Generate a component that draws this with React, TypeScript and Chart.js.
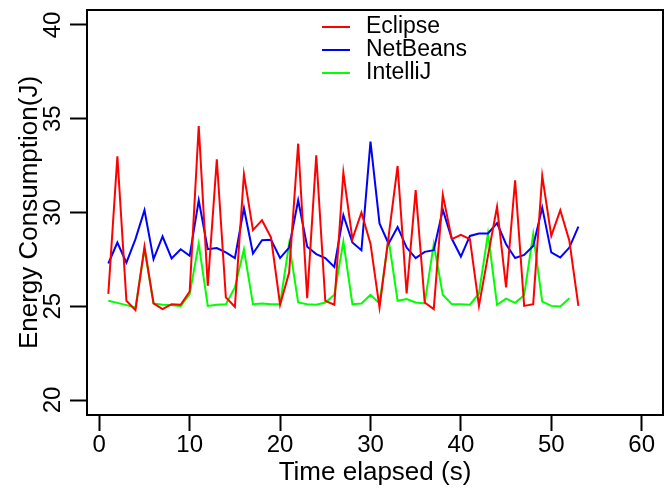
import React, { useEffect, useRef } from "react";
import { Chart, registerables } from "chart.js";

Chart.register(...registerables);

const timeSeconds = [
  1, 2, 3, 4, 5, 6, 7, 8, 9, 10, 11, 12, 13, 14, 15, 16, 17, 18, 19, 20,
  21, 22, 23, 24, 25, 26, 27, 28, 29, 30, 31, 32, 33, 34, 35, 36, 37, 38, 39, 40,
  41, 42, 43, 44, 45, 46, 47, 48, 49, 50, 51, 52, 53,
];

const eclipseJ = [
  25.66, 33.0, 25.29, 24.79, 28.17, 25.15, 24.85, 25.11, 25.08, 25.79,
  34.61, 26.09, 32.84, 25.47, 24.97, 32.04, 29.06, 29.59, 28.66, 25.08,
  26.8, 33.67, 25.43, 33.05, 25.29, 25.08, 32.13, 28.58, 30.0, 28.34,
  24.93, 28.7, 32.48, 25.68, 31.19, 25.2, 24.85, 30.94, 28.58, 28.81,
  28.58, 25.02, 27.7, 30.3, 26.0, 31.72, 25.02, 25.11, 31.95, 28.75,
  30.12, 28.49, 25.02,
];

const netbeansJ = [
  27.28, 28.4, 27.33, 28.58, 30.12, 27.51, 28.72, 27.55, 28.04, 27.69,
  30.65, 28.04, 28.1, 27.87, 27.57, 30.23, 27.81, 28.52, 28.54, 27.57,
  28.13, 30.65, 28.17, 27.78, 27.57, 27.1, 29.86, 28.4, 27.99, 33.78,
  29.42, 28.34, 29.23, 28.13, 27.57, 27.9, 27.99, 30.15, 28.6, 27.65,
  28.75, 28.88, 28.88, 29.43, 28.31, 27.57, 27.74, 28.22, 30.26, 27.87,
  27.6, 28.13, 29.25,
];

const intellijJ = [
  25.29, 25.18, 25.06, 24.93, 28.04, 25.15, 25.08, 25.06, 25.0, 25.65,
  28.34, 25.02, 25.08, 25.11, 26.0, 28.04, 25.11, 25.15, 25.11, 25.11,
  28.34, 25.2, 25.11, 25.08, 25.2, 25.61, 28.45, 25.11, 25.15, 25.61,
  25.15, 28.58, 25.29, 25.38, 25.2, 25.15, 28.31, 25.61, 25.11, 25.11,
  25.08, 25.68, 28.88, 25.08, 25.41, 25.18, 25.59, 28.84, 25.25, 25.02,
  24.99, 25.43,
];

const seriesNames = ["Eclipse", "NetBeans", "IntelliJ"];
const seriesColors = ["#FF0000", "#0000FF", "#00FF00"];
const xTickValues = [0, 10, 20, 30, 40, 50, 60];
const yTickValues = [20, 25, 30, 35, 40];
const xTitle = "Time elapsed (s)";
const yTitle = "Energy Consumption(J)";

const FONT = "'Liberation Sans', Arial, Helvetica, sans-serif";

const boxPlugin = {
  id: "rBox",
  afterDraw(chart: any) {
    const { ctx, chartArea } = chart;
    ctx.save();
    ctx.strokeStyle = "#000";
    ctx.lineWidth = 2;
    ctx.strokeRect(
      Math.round(chartArea.left),
      Math.round(chartArea.top),
      Math.round(chartArea.right - chartArea.left),
      Math.round(chartArea.bottom - chartArea.top)
    );
    ctx.restore();
  },
};

const legendPlugin = {
  id: "rLegend",
  afterDraw(chart: any) {
    const { ctx, chartArea } = chart;
    const cx = (chartArea.left + chartArea.right) / 2;
    const lineStart = cx - 53;
    const lineEnd = cx - 25;
    const textX = cx - 9;
    const firstY = chartArea.top + 17;
    const rowH = 23;
    ctx.save();
    ctx.font = `23px ${FONT}`;
    ctx.textBaseline = "middle";
    ctx.textAlign = "left";
    chart.data.datasets.forEach((ds: any, i: number) => {
      const y = firstY + i * rowH;
      ctx.strokeStyle = ds.borderColor;
      ctx.lineWidth = 2;
      ctx.beginPath();
      ctx.moveTo(lineStart, y);
      ctx.lineTo(lineEnd, y);
      ctx.stroke();
      ctx.fillStyle = "#000";
      ctx.fillText(ds.label, textX, y);
    });
    ctx.restore();
  },
};

function makeSeries(values: number[]) {
  return values.map((v, i) => ({ x: timeSeconds[i], y: v }));
}

export default function App() {
  const canvasRef = useRef<HTMLCanvasElement | null>(null);

  useEffect(() => {
    document.body.style.margin = "0";
    const canvas = canvasRef.current;
    if (!canvas) return;
    const seriesValues = [eclipseJ, netbeansJ, intellijJ];
    const chart = new Chart(canvas, {
      type: "line",
      data: {
        datasets: seriesValues.map((vals, i) => ({
          label: seriesNames[i],
          data: makeSeries(vals),
          borderColor: seriesColors[i],
          backgroundColor: seriesColors[i],
          borderWidth: 2,
          pointRadius: 0,
          tension: 0,
          fill: false,
        })),
      },
      options: {
        responsive: false,
        animation: false,
        events: [],
        layout: { padding: { left: 0, right: 4, top: 10, bottom: 0 } },
        plugins: {
          legend: { display: false },
          tooltip: { enabled: false },
        },
        scales: {
          x: {
            type: "linear",
            min: -1.36,
            max: 62.36,
            afterBuildTicks: (scale: any) => {
              scale.ticks = xTickValues.map((v) => ({ value: v }));
            },
            afterFit: (scale: any) => {
              scale.height = 79;
              scale.paddingLeft = 0;
              scale.paddingRight = 0;
            },
            grid: {
              drawOnChartArea: false,
              drawTicks: true,
              tickLength: 16,
              tickColor: "#000",
              tickWidth: 2,
            },
            border: { display: true, color: "#000", width: 2 },
            ticks: {
              color: "#000",
              padding: 0,
              maxRotation: 0,
              autoSkip: false,
              font: { family: FONT, size: 24 },
            },
            title: {
              display: true,
              text: xTitle,
              color: "#000",
              font: { family: FONT, size: 26 },
              padding: { top: 0, bottom: 6 },
            },
          },
          y: {
            type: "linear",
            min: 19.2,
            max: 40.8,
            afterBuildTicks: (scale: any) => {
              scale.ticks = yTickValues.map((v) => ({ value: v }));
            },
            afterFit: (scale: any) => {
              scale.width = 87;
              scale.paddingTop = 0;
              scale.paddingBottom = 0;
            },
            grid: {
              drawOnChartArea: false,
              drawTicks: true,
              tickLength: 17,
              tickColor: "#000",
              tickWidth: 2,
            },
            border: { display: true, color: "#000", width: 2 },
            ticks: {
              color: "#000",
              padding: 3,
              minRotation: 90,
              maxRotation: 90,
              crossAlign: "center",
              autoSkip: false,
              font: { family: FONT, size: 24 },
            },
            title: {
              display: true,
              text: yTitle,
              color: "#000",
              font: { family: FONT, size: 26 },
              padding: { top: 14, bottom: 0 },
            },
          },
        },
      },
      plugins: [boxPlugin, legendPlugin],
    } as any);
    return () => chart.destroy();
  }, []);

  return (
    <div style={{ width: 667, height: 494 }}>
      <canvas ref={canvasRef} width={667} height={494} style={{ display: "block" }} />
    </div>
  );
}
